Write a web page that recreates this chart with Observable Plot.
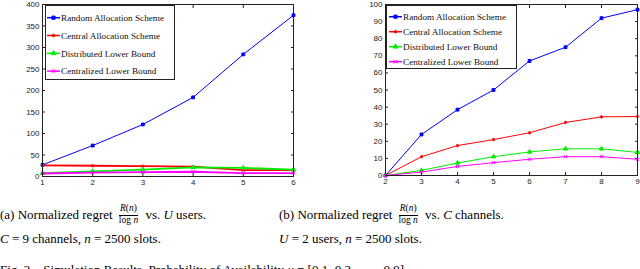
<!DOCTYPE html>
<html><head><meta charset="utf-8">
<script src="https://cdn.jsdelivr.net/npm/d3@7"></script>
<script src="https://cdn.jsdelivr.net/npm/@observablehq/plot@0.6"></script>
<style>
html,body{margin:0;padding:0;background:#fff;}
#wrap{position:relative;width:640px;height:269px;overflow:hidden;background:#fff;}
.pl{position:absolute;top:0;}
.cap{position:absolute;font-family:"Liberation Serif","Times New Roman",Tinos,"DejaVu Serif",serif;font-size:13px;line-height:13px;color:#000;white-space:nowrap;}
.frac{display:inline-block;vertical-align:middle;text-align:center;font-size:9.5px;line-height:9.5px;margin:0 4px 0 3px;position:relative;top:-2px;}
.frac .num{display:block;border-bottom:0.8px solid #000;padding:0 1px 1px 1px;}
.frac .den{display:block;padding-top:0px;}
.leg{position:absolute;}
</style></head>
<body><div id="wrap">
<div id="left" class="pl" style="left:0"></div>
<div id="right" class="pl" style="left:320px"></div>
<div class="cap" style="left:0;top:206px">(a) Normalized regret <span class="frac"><span class="num"><i>R</i>(<i>n</i>)</span><span class="den">log <i>n</i></span></span> vs. <i>U</i> users.</div>
<div class="cap" style="left:0;top:232px"><i>C</i> = 9 channels, <i>n</i> = 2500 slots.</div>
<div class="cap" style="left:279px;top:206px">(b) Normalized regret <span class="frac"><span class="num"><i>R</i>(<i>n</i>)</span><span class="den">log <i>n</i></span></span> vs. <i>C</i> channels.</div>
<div class="cap" style="left:279px;top:232px"><i>U</i> = 2 users, <i>n</i> = 2500 slots.</div>
<div class="cap" style="left:0;top:263px">Fig. 3.&nbsp;&nbsp;&nbsp;Simulation Results. Probability of Availability <i>μ</i> = [0.1, 0.2, . . . , 0.9].</div>
</div>
<script>
// ---- data ----
const seriesNames = ["Random Allocation Scheme","Central Allocation Scheme","Distributed Lower Bound","Centralized Lower Bound"];
const seriesColors = ["#0000ff","#ff0000","#00ee00","#ff00ff"];
const seriesSymbols = ["square","asterisk","triangle","times"];

const users = [1,2,3,4,5,6];
const randomU = [27,72,121,184,284,375];
const centralU = [26,25,24,23,15,15];
const distributedU = [8,12,16,21,20,16];
const centralizedU = [7,9,10,11,8,8];
const usersYTicks = [0,50,100,150,200,250,300,350,400];

const channels = [2,3,4,5,6,7,8,9];
const randomC = [0,24,38.5,50,67,75,92,97];
const centralC = [0,11,17.5,21,25,31,34.3,34.5];
const distributedC = [0,3,7.3,11,13.8,15.6,15.6,13.5];
const centralizedC = [0,2,5.3,7.5,9.5,11,11,9.5];
const channelsYTicks = [0,10,20,30,40,50,60,70,80,90,100];

const serifFont = "'Liberation Serif','Times New Roman',Tinos,'DejaVu Serif',serif";
const symMap = {square:d3.symbolSquare, asterisk:d3.symbolAsterisk, triangle:d3.symbolTriangle, times:d3.symbolTimes};
const filledSym = {square:true, asterisk:false, triangle:true, times:false};

function chart({xs, series, xDomain, yDomain, yTicks, width, height, ml, mr, mt, mb, sws, r}) {
  const marks = [];
  marks.push(Plot.axisX({anchor:"bottom", ticks: xs, tickFormat: "d", tickSize: 0, tickPadding: 3, label: null, fontSize: 8, fill:"#222"}));
  marks.push(Plot.axisY({anchor:"left", ticks: yTicks, tickFormat: "d", tickSize: 0, tickPadding: 3, label: null, fontSize: 8, fill:"#222"}));
  for (const a of ["bottom","top"]) marks.push(Plot.axisX({anchor:a, ticks: xs, tickSize: -3, tickFormat: () => "", label: null, stroke:"#222"}));
  for (const a of ["left","right"]) marks.push(Plot.axisY({anchor:a, ticks: yTicks, tickSize: -3, tickFormat: () => "", label: null, stroke:"#222"}));
  series.forEach((vals, i) => {
    const rows = xs.map((x, j) => ({x, y: vals[j]}));
    marks.push(Plot.line(rows, {x:"x", y:"y", stroke: seriesColors[i], strokeWidth: sws[i]}));
    const s = seriesSymbols[i];
    marks.push(Plot.dot(rows, {x:"x", y:"y", symbol: s, r: r,
      fill: filledSym[s] ? seriesColors[i] : "none", stroke: seriesColors[i], strokeWidth: 1}));
  });
  marks.push(Plot.frame({stroke:"#222", strokeWidth: 1}));
  return Plot.plot({
    width, height, marginLeft: ml, marginRight: mr, marginTop: mt, marginBottom: mb,
    x: {domain: xDomain}, y: {domain: yDomain},
    style: {fontFamily: "'Liberation Sans', Arial, sans-serif", background: "transparent", overflow: "visible"},
    marks
  });
}

function legend({width, height, spacing, first, lineX1, lineX2, textX, fs}) {
  const svg = d3.create("svg").attr("width", width).attr("height", height).attr("class","leg");
  svg.append("rect").attr("x",0.5).attr("y",0.5).attr("width",width-1).attr("height",height-1)
    .attr("fill","#fff").attr("stroke","#222");
  seriesNames.forEach((n, i) => {
    const y = first + i*spacing;
    svg.append("line").attr("x1",lineX1).attr("x2",lineX2).attr("y1",y).attr("y2",y)
      .attr("stroke",seriesColors[i]).attr("stroke-width",1.5);
    const s = seriesSymbols[i];
    svg.append("path").attr("d", d3.symbol(symMap[s], 10)()).attr("transform",`translate(${(lineX1+lineX2)/2},${y})`)
      .attr("fill", filledSym[s] ? seriesColors[i] : "none").attr("stroke", seriesColors[i]);
    svg.append("text").attr("x",textX).attr("y",y).attr("dy","0.35em")
      .attr("font-family",serifFont).attr("font-size",fs)
      .attr("fill","#111").text(n);
  });
  return svg.node();
}

const L = chart({xs: users, series:[randomU,centralU,distributedU,centralizedU], xDomain:[1,6], yDomain:[0,400],
  yTicks: usersYTicks, width: 300, height: 192, ml: 42, mr: 7, mt: 4, mb: 16, sws: [1,1.8,1.8,1.8], r: 1.6});
document.getElementById("left").appendChild(L);
const R = chart({xs: channels, series:[randomC,centralC,distributedC,centralizedC], xDomain:[2,9], yDomain:[0,100],
  yTicks: channelsYTicks, width: 320, height: 192, ml: 65, mr: 3, mt: 4, mb: 17, sws: [1,1,1,1], r: 1.6});
document.getElementById("right").appendChild(R);

const lg1 = legend({width:130, height:75, spacing:17.8, first:12.7, lineX1:2, lineX2:15, textX:16, fs:9.2});
lg1.style.left = "45px"; lg1.style.top = "5px";
document.getElementById("wrap").appendChild(lg1);
const lg2 = legend({width:131, height:64, spacing:15, first:11.7, lineX1:3, lineX2:16, textX:17, fs:9.2});
lg2.style.left = "386px"; lg2.style.top = "5px";
document.getElementById("wrap").appendChild(lg2);
</script>
</body></html>
